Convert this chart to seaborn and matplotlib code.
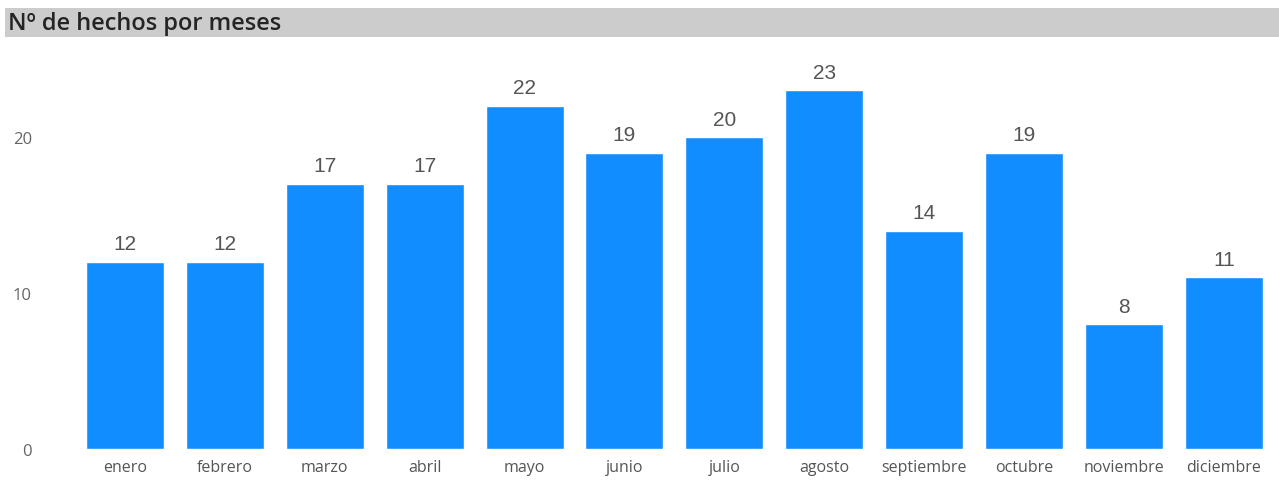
import matplotlib
matplotlib.use("Agg")
import matplotlib.pyplot as plt
import seaborn as sns
import pandas as pd
from matplotlib.patches import Rectangle

meses = ["enero", "febrero", "marzo", "abril", "mayo", "junio", "julio",
         "agosto", "septiembre", "octubre", "noviembre", "diciembre"]
hechos = [12, 12, 17, 17, 22, 19, 20, 23, 14, 19, 8, 11]
y_ticks = [0, 10, 20]

sns.set_style("white")
plt.rcParams['font.family'] = ['Open Sans', 'DejaVu Sans']

df = pd.DataFrame({"mes": meses, "hechos": hechos})

fig = plt.figure(figsize=(12.79, 4.81), dpi=100)
ax = fig.add_axes([0.0586, 0.0644, 0.9374, 0.811])

sns.barplot(data=df, x="mes", y="hechos", color="#118DFF", saturation=1,
            width=0.78, ax=ax)

for cont in ax.containers:
    ax.bar_label(cont, padding=6, fontsize=15, color="#555555",
                 family=["Liberation Sans", "DejaVu Sans"])

ax.set_ylim(0, 25)
ax.set_xlim(-0.5, len(meses) - 0.5)
ax.set_yticks(y_ticks)
ax.set_xlabel("")
ax.set_ylabel("")
ax.tick_params(axis="y", labelsize=12, colors="#666666", length=0, pad=31)
ax.tick_params(axis="x", labelsize=11.5, colors="#555555", length=0, pad=7)
sns.despine(ax=ax, left=True, bottom=True)

# title bar
fig.patches.append(Rectangle((5 / 1279, 1 - 38 / 481), 1, 29 / 481,
                             transform=fig.transFigure, facecolor="#cccccc",
                             edgecolor="none", zorder=0))
fig.text(8 / 1279, 1 - 24 / 481, "Nº de hechos por meses", fontsize=17,
         color="#252423", va="center", ha="left", weight="semibold")

fig.savefig("out.png", dpi=100)
